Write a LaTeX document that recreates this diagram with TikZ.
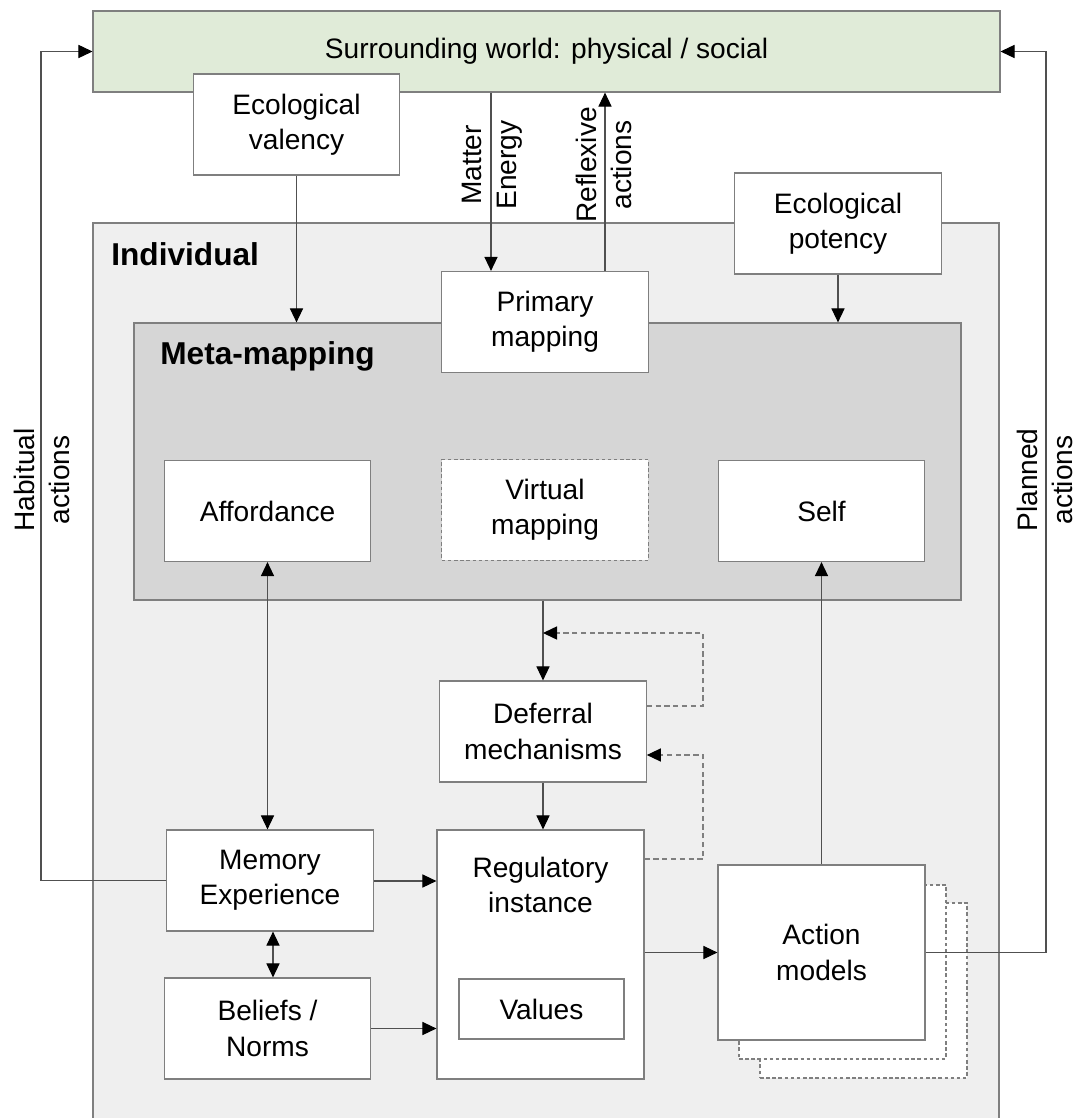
\documentclass[tikz,border=0pt]{standalone}
\usepackage{fontspec}
\setmainfont{Liberation Sans}
\usetikzlibrary{arrows.meta,fit,calc}
\definecolor{worldgreen}{HTML}{E0EBD8}
\definecolor{indgray}{HTML}{EFEFEF}
\definecolor{metagray}{HTML}{D6D6D6}
\definecolor{edgegray}{HTML}{7F7F7F}
\definecolor{linegray}{HTML}{505050}
\begin{document}
\begin{tikzpicture}[x=0.02cm,y=-0.02cm,
  box/.style={draw=edgegray, fill=white, line width=0.7pt, inner sep=0pt, align=center,
    font=\fontsize{16}{20}\selectfont},
  std/.style={box, minimum width=4.13cm, minimum height=2.02cm},
  dotbox/.style={dash pattern=on 2pt off 1.5pt},
  region/.style={draw=edgegray, line width=0.7pt, inner sep=0pt},
  conn/.style={draw=linegray, line width=0.6pt},
  tip/.tip={Triangle[length=8pt,width=7.5pt,color=black]},
  arr/.style={conn, -tip},
  darr/.style={conn, tip-tip},
  dconn/.style={draw=edgegray, line width=0.6pt, densely dashed, -tip},
  lbl/.style={align=center, inner sep=0pt, font=\fontsize{16}{20}\selectfont},
  titletext/.style={inner sep=0pt, anchor=north west, font=\fontsize{18}{22}\selectfont\bfseries}]
\clip (0,0) rectangle (1079,1118);
\fill[white] (0,0) rectangle (1079,1118);

% regions
\node[box, fill=worldgreen, minimum width=18.14cm, minimum height=1.62cm] (world) at (546.5,51.5) {Surrounding world: physical / social};
\node[region, fill=indgray, fit={(93,223) (999,1140)}] (ind) {};
\node[titletext] (indt) at (111,242) {Individual};
\node[region, fill=metagray, fit={(134,323) (961,600)}] (meta) {};
\node[titletext] (metat) at (160,341) {Meta-mapping};

% boxes
\node[std] (val) at (296.5,124.5) {Ecological\\valency};
\node[std] (pot) at (838,223.5) {Ecological\\potency};
\node[std] (prim) at (545,322) {Primary\\mapping};
\node[std] (aff) at (267.5,511) {Affordance};
\node[std, dotbox] (virt) at (545,510) {Virtual\\mapping};
\node[std] (self) at (821.5,511) {Self};
\node[std] (def) at (543,731.5) {Deferral\\mechanisms};
\node[std] (mem) at (270,880.5) {Memory\\Experience};
\node[std] (bel) at (267.5,1028.5) {Beliefs /\\Norms};
\node[box, minimum width=4.14cm, minimum height=4.98cm] (reg) at (540.5,954.5) {};
\node[lbl, anchor=north] (regt) at (540.5,857) {Regulatory\\instance};
\node[box, minimum width=3.3cm, minimum height=1.2cm] (vals) at (541.5,1009) {Values};
\node[box, dotbox, minimum width=4.14cm, minimum height=3.5cm] (stackc) at (863.5,990.5) {};
\node[box, dotbox, minimum width=4.14cm, minimum height=3.48cm] (stackb) at (842.5,972) {};
\node[box, minimum width=4.14cm, minimum height=3.5cm] (act) at (821.5,952.5) {Action\\models};

% rotated labels
\node[lbl, rotate=90] (lme) at (492,165) {Matter\\Energy};
\node[lbl, rotate=90] (lrf) at (604,165) {Reflexive\\actions};
\node[lbl, rotate=90] (lhab) at (42,480) {Habitual\\actions};
\node[lbl, rotate=90] (lpl) at (1045,480) {Planned\\actions};

% helper coordinates
\coordinate (me) at (491,0);
\coordinate (rf) at (605,0);
\coordinate (hab) at (41,0);
\coordinate (plan) at (1046,0);
\coordinate (la) at (703,633);
\coordinate (lb) at (703,706);
\coordinate (lc) at (703,755);
\coordinate (ld) at (703,859);
\coordinate (rin) at (0,881);

% connectors
\draw[arr] (val.south) -- (val.south |- meta.north);
\draw[arr] (pot.south) -- (pot.south |- meta.north);
\draw[arr] (me |- world.south) -- (me |- prim.north);
\draw[arr] (rf |- prim.north) -- (rf |- world.south);
\draw[arr] (mem.west) -| (hab |- world.west) -- (world.west);
\draw[arr] (act.east) -| (plan |- world.east) -- (world.east);
\draw[darr] (aff.south) -- (aff.south |- mem.north);
\draw[darr] ([xshift=0.06cm]mem.south) -- ([xshift=0.06cm]mem.south |- bel.north);
\draw[arr] (def.north |- meta.south) -- (def.north);
\draw[arr] (def.south) -- (def.south |- reg.north);
\draw[dconn] (def.east |- lb) -- (lb) -- (la) -- (def.north |- la);
\draw[dconn] (reg.east |- ld) -- (ld) -- (lc) -- (def.east |- lc);
\draw[arr] (mem.east |- rin) -- (reg.west |- rin);
\draw[arr] (bel.east) -- (bel.east -| reg.west);
\draw[arr] (reg.east |- act.west) -- (act.west);
\draw[arr] (act.north) -- (self.south);
\end{tikzpicture}
\end{document}
